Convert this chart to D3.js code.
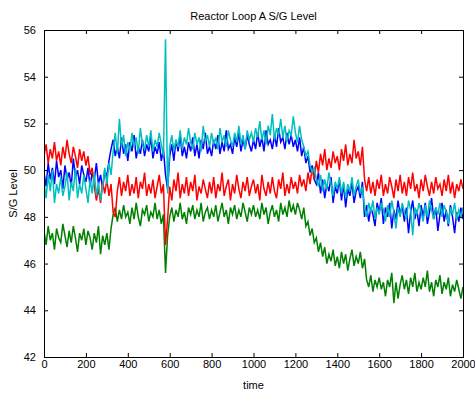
<!DOCTYPE html>
<html>
<head>
<meta charset="utf-8">
<script src="https://cdn.jsdelivr.net/npm/d3@7"></script>
<style>
  body { margin: 0; background: #fff; }
  text { font-family: "Liberation Sans", Arial, sans-serif; }
</style>
</head>
<body>
<div id="chart"></div>
<script>
// sampled every 10 time units, 0..2000
const step = 10;

const blueLevel = [
  49.9, 49.3, 50.3, 49.6, 50.1, 49.4, 50.4, 49.7, 50.0, 49.2,
  50.2, 49.6, 49.9, 49.3, 50.5, 49.7, 50.0, 49.4, 50.2, 49.8,
  49.5, 50.1, 49.3, 49.9, 49.6, 50.3, 49.4, 49.8, 49.2, 50.0,
  49.7, 50.4, 50.9, 51.3, 50.6, 51.0, 50.5, 51.4, 50.7, 51.1,
  50.4, 51.2, 50.8, 51.5, 50.5, 51.0, 50.7, 51.3, 50.6, 51.1,
  50.8, 51.4, 50.5, 51.0, 50.7, 51.2, 50.4, 50.9, 49.8, 49.2,
  50.6, 51.1, 50.4, 51.3, 50.8, 51.5, 50.6, 51.0, 50.5, 51.2,
  50.8, 51.4, 50.6, 51.1, 50.5, 51.3, 50.9, 51.6, 50.7, 51.0,
  50.6, 51.3, 50.9, 51.5, 50.7, 51.2, 50.8, 51.7, 50.9, 51.1,
  50.7, 51.4, 51.0, 51.6, 50.8, 51.3, 50.9, 51.5, 51.1, 50.8,
  51.3, 50.9, 51.6, 51.0, 51.4, 50.8, 51.7, 51.1, 51.3, 50.9,
  51.5, 51.0, 51.8, 51.2, 51.4, 50.9, 51.6, 51.1, 51.5, 51.0,
  51.3, 50.8, 51.4, 50.6, 51.0, 50.3, 50.6, 49.9, 50.2, 49.6,
  49.4, 49.9, 49.0, 49.6, 48.8, 49.4, 49.1, 49.7, 48.6, 49.3,
  49.0, 49.6, 48.7, 49.4, 48.4, 49.2, 48.9, 49.5, 48.6, 49.1,
  49.3, 48.8, 49.5, 48.0, 48.5, 47.8, 48.4, 48.1, 47.6, 48.6,
  48.2, 48.8, 47.7, 48.4, 48.0, 48.6, 47.5, 48.3, 47.9, 48.7,
  48.1, 48.5, 47.8, 48.4, 47.3, 48.2, 48.7, 47.9, 48.3, 47.6,
  48.5, 48.0, 48.6, 47.7, 48.2, 48.8, 47.9, 48.4, 47.4, 48.1,
  48.6, 47.8, 48.3, 47.6, 48.5, 48.0, 47.3, 48.2, 47.8, 48.4, 47.9
];

const greenLevel = [
  47.4, 46.8, 47.6, 47.0, 47.3, 46.6, 47.5, 47.1, 46.9, 47.7,
  47.2, 46.7, 47.4, 46.9, 47.6, 47.1, 46.5, 47.3, 47.0, 47.5,
  46.8, 47.4, 47.1, 46.6, 47.3, 46.9, 47.6, 46.4, 47.2, 46.8,
  47.3, 46.6, 47.5, 48.1, 48.4, 47.8, 48.3, 47.9, 48.5, 48.0,
  48.2, 47.7, 48.4, 47.9, 48.6, 48.0, 47.6, 48.3, 48.1, 48.5,
  47.8, 48.2, 48.0, 48.6, 47.9, 48.3, 47.7, 48.1, 45.6, 47.2,
  48.0, 48.4, 47.8, 48.3, 48.0, 48.6, 47.9, 48.2, 47.7, 48.4,
  48.1, 48.5, 47.9, 48.3, 48.0, 48.6, 47.8, 48.2, 48.4, 47.9,
  48.3, 48.0, 48.5, 47.8, 48.2, 48.6, 48.0, 48.3, 47.7, 48.4,
  48.1, 48.5, 47.9, 48.3, 48.0, 48.6, 48.2, 47.8, 48.4, 48.1,
  48.5, 48.0, 48.3, 47.9, 48.6, 48.1, 48.4, 47.7, 48.2, 48.5,
  48.0, 48.3, 47.8, 48.6, 48.1, 48.4, 48.0, 48.7, 48.2, 48.5,
  48.1, 48.6, 48.3, 47.9, 48.4, 47.6, 47.8, 47.2, 47.5, 46.9,
  47.1, 46.5, 46.9, 46.3, 46.7, 46.0, 46.4, 46.1, 46.6, 45.9,
  46.3, 45.8, 46.5, 46.0, 46.4, 45.7, 46.2, 46.6, 45.9, 46.3,
  46.0, 46.5, 45.8, 46.2, 45.3, 45.0, 45.5, 44.8, 45.3, 45.0,
  45.4, 44.9, 45.2, 44.6, 45.3, 45.0, 45.6, 44.3, 45.2, 44.5,
  45.1, 45.5, 44.9, 45.3, 44.7, 45.4, 45.0, 45.6, 44.8, 45.2,
  44.9, 45.4, 45.0, 45.7, 44.8, 45.2, 44.6, 45.3, 45.0, 45.5,
  44.7, 45.2, 44.9, 45.4, 44.6, 45.1, 44.8, 45.3, 44.9, 44.5, 45.0
];

const redLevel = [
  50.6, 51.1, 50.3, 50.9, 50.5, 51.2, 50.4, 50.8, 50.2, 51.0,
  50.5, 51.3, 50.7, 50.3, 51.0, 50.6, 50.1, 50.9, 50.4, 50.8,
  50.2, 50.6, 49.8, 50.1, 49.3, 48.7, 49.2, 48.6, 49.5, 49.0,
  49.6, 48.9, 49.4, 48.2, 48.0, 49.1, 49.7, 48.9, 49.5, 49.1,
  49.8, 48.9, 49.4, 49.0, 49.7, 48.8, 49.5, 49.2, 49.9, 48.9,
  49.4, 49.0, 49.6, 48.8, 49.3, 49.8, 49.0, 49.4, 46.8, 47.9,
  49.3, 48.7, 49.6, 49.1, 49.9, 48.8, 49.4, 49.0, 49.7, 48.9,
  49.5, 49.1, 49.8, 48.7, 49.3, 49.0, 49.6, 49.2, 48.8, 49.5,
  49.0, 49.7, 48.8, 49.4, 49.1, 49.9, 48.9, 49.3, 49.6, 48.7,
  49.4, 49.0, 49.8, 49.2, 48.8, 49.5, 49.1, 49.7, 48.9, 49.3,
  49.6, 49.0, 49.4, 48.7, 49.8, 49.2, 48.9, 49.5, 49.0, 49.7,
  49.1, 48.8, 49.6, 49.2, 49.9, 48.9, 49.4, 49.0, 49.7, 49.2,
  49.5, 49.0, 49.8, 49.3, 49.6, 49.1, 49.9, 49.4, 50.1, 49.6,
  50.4, 49.9, 50.7, 50.2, 50.9, 50.0, 50.5, 50.1, 50.8, 50.3,
  50.6, 50.0, 50.9, 50.4, 51.1, 50.2, 50.7, 50.3, 51.3, 50.5,
  50.8, 50.2, 51.0, 49.6, 49.1, 49.7, 49.0, 49.5, 48.9, 49.6,
  49.2, 49.8, 48.9, 49.4, 49.0, 49.7, 49.3, 48.8, 49.6, 49.1,
  49.8, 49.0, 49.5, 48.9, 49.7, 49.2, 49.9, 49.1, 49.4, 48.8,
  49.6, 49.1, 49.8, 49.3, 48.9, 49.5, 49.0, 49.7, 49.2, 49.4,
  48.9, 49.6, 49.1, 49.8, 49.0, 49.5, 48.8, 49.4, 49.1, 49.6, 49.2
];

const cyanLevel = [
  49.5, 48.8, 49.8, 49.1, 50.0, 48.6, 49.4, 49.0, 49.7, 48.9,
  49.3, 49.9, 48.7, 49.5, 49.1, 50.1, 48.8, 49.4, 49.0, 49.8,
  49.2, 48.6, 49.6, 49.0, 49.9, 48.9, 49.5, 48.7, 49.3, 50.1,
  49.4, 50.3, 49.8, 50.8, 51.6, 50.7, 52.2, 51.0, 51.5, 50.6,
  51.2, 50.8, 51.6, 51.0, 51.4, 50.7, 51.8, 51.1, 50.9, 51.5,
  51.0, 51.7, 50.8, 51.3, 51.0, 51.6, 51.1, 50.6, 55.6, 49.0,
  51.0, 51.5, 50.8, 51.3, 51.0, 51.7, 50.9, 51.4, 51.1, 51.8,
  51.2, 50.9, 51.6, 51.1, 51.4, 50.8, 51.9, 51.2, 51.5, 51.0,
  51.6, 51.1, 51.4, 50.9, 51.8, 51.2, 51.5, 51.0, 51.7, 51.3,
  51.0, 51.6, 51.2, 51.9, 51.1, 51.5, 50.9, 51.7, 51.3, 51.6,
  51.2, 51.8, 51.4, 52.1, 51.3, 51.7, 51.1, 51.9, 51.5, 52.4,
  51.3, 51.8, 51.5, 52.2, 51.4, 51.9, 51.2, 51.7, 51.5, 52.3,
  51.6, 51.2, 51.9, 51.3, 51.0, 50.6, 50.8, 50.2, 49.9, 50.1,
  49.6, 49.3, 49.8, 49.1, 49.6, 49.2, 49.9, 49.4, 48.9, 49.5,
  49.2, 49.7, 49.0, 49.5, 48.8, 49.4, 49.1, 49.7, 48.9, 49.3,
  49.6, 49.0, 49.3, 48.4, 48.0, 48.6, 48.2, 48.7, 47.9, 48.4,
  48.1, 48.6, 48.3, 47.8, 48.5, 48.0, 48.7, 48.2, 47.5, 48.4,
  48.0, 48.6, 48.2, 47.9, 48.7, 48.3, 47.2, 48.4, 48.1, 48.6,
  48.2, 47.8, 48.5, 48.0, 48.7, 48.3, 47.9, 48.4, 48.1, 48.6,
  48.0, 48.5, 48.2, 47.7, 48.4, 48.1, 48.6, 47.9, 48.3, 48.0, 48.4
];

// MATLAB plot order: b, g, r, c
const series = [
  { name: 'blue', color: '#0000ff', values: blueLevel },
  { name: 'green', color: '#008000', values: greenLevel },
  { name: 'red', color: '#ff0000', values: redLevel },
  { name: 'cyan', color: '#00bfbf', values: cyanLevel }
];

const xTicks = [0, 200, 400, 600, 800, 1000, 1200, 1400, 1600, 1800, 2000];
const yTicks = [42, 44, 46, 48, 50, 52, 54, 56];

const width = 475;
const height = 394;
const margin = { top: 30, right: 12, bottom: 37, left: 44 };
const innerW = width - margin.left - margin.right;
const innerH = height - margin.top - margin.bottom;

const svg = d3.select('#chart')
  .append('svg')
  .attr('width', width)
  .attr('height', height);

const x = d3.scaleLinear().domain([0, 2000]).range([margin.left, margin.left + innerW]);
const y = d3.scaleLinear().domain([42, 56]).range([margin.top + innerH, margin.top]);

// clip lines to axes box
svg.append('clipPath').attr('id', 'clip')
  .append('rect')
  .attr('x', margin.left).attr('y', margin.top)
  .attr('width', innerW).attr('height', innerH);

const line = d3.line()
  .x((d, i) => x(i * step))
  .y(d => y(d));

svg.append('g')
  .attr('clip-path', 'url(#clip)')
  .selectAll('path')
  .data(series)
  .enter()
  .append('path')
  .attr('d', d => line(d.values))
  .attr('fill', 'none')
  .attr('stroke', d => d.color)
  .attr('stroke-width', 1.5)
  .attr('stroke-linejoin', 'miter');

// axes (ticks point inward, like matlab)
const tickLen = 4;
const fmt = d3.format('d');
svg.append('g')
  .attr('transform', `translate(0,${margin.top + innerH})`)
  .call(d3.axisBottom(x).tickValues(xTicks).tickSize(-tickLen).tickPadding(3).tickFormat(fmt));
svg.append('g')
  .attr('transform', `translate(0,${margin.top})`)
  .call(d3.axisTop(x).tickValues(xTicks).tickSize(-tickLen).tickFormat(''));
svg.append('g')
  .attr('transform', `translate(${margin.left},0)`)
  .call(d3.axisLeft(y).tickValues(yTicks).tickSize(-tickLen).tickPadding(8).tickFormat(fmt));
svg.append('g')
  .attr('transform', `translate(${margin.left + innerW},0)`)
  .call(d3.axisRight(y).tickValues(yTicks).tickSize(-tickLen).tickFormat(''));

svg.selectAll('.domain').attr('stroke', '#000').attr('stroke-width', 1);
svg.selectAll('.tick line').attr('stroke', '#000');
svg.selectAll('.tick text')
  .attr('font-size', 11)
  .attr('font-family', '"Liberation Sans", Arial, sans-serif')
  .attr('fill', '#000');

// title and labels
svg.append('text')
  .text('Reactor Loop A S/G Level')
  .attr('x', margin.left + innerW / 2)
  .attr('y', 20)
  .attr('text-anchor', 'middle')
  .attr('font-size', 11);

svg.append('text')
  .text('time')
  .attr('x', margin.left + innerW / 2)
  .attr('y', 389)
  .attr('text-anchor', 'middle')
  .attr('font-size', 11);

svg.append('text')
  .text('S/G Level')
  .attr('transform', `translate(17,${margin.top + innerH / 2}) rotate(-90)`)
  .attr('text-anchor', 'middle')
  .attr('font-size', 11);
</script>
</body>
</html>
